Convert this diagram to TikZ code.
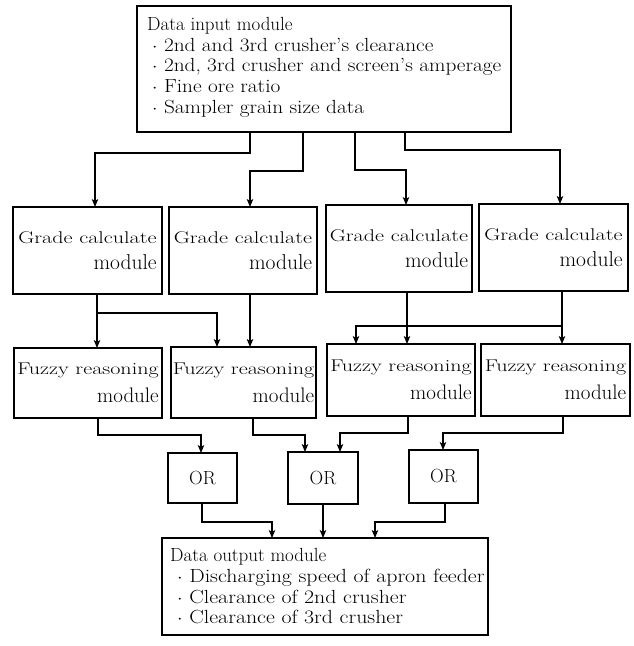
\documentclass[tikz,border=0pt]{standalone}
\usepackage{fontspec}
\usepackage{graphicx}
\usetikzlibrary{arrows.meta,calc}
\tikzset{
  box/.style={draw, line width=1.1pt, rectangle, inner sep=0pt, outer sep=0pt},
  gbox/.style={box, align=right, font=\fontsize{21.5}{25.7}\selectfont},
  fbox/.style={box, align=right, font=\fontsize{21}{27.7}\selectfont},
  orbox/.style={box, font=\fontsize{19}{22}\selectfont},
  listtext/.style={anchor=north west, align=left, inner sep=0pt, font=\fontsize{19}{20.6}\selectfont},
  conn/.style={line width=1.3pt, -{Stealth[length=8pt,width=6.5pt,inset=2pt]}},
}
\newcommand{\wide}[1]{\scalebox{1.3}[1]{\fontsize{17}{17}\selectfont #1}}
\newcommand{\bul}{$\cdot$\ }
\newcommand{\itmA}[1]{\hspace*{5pt}\scalebox{1.12}[1]{\bul #1}}
\newcommand{\itmB}[1]{\hspace*{7pt}\scalebox{1.15}[1]{\bul #1}}
\begin{document}
\begin{tikzpicture}[x=1pt,y=-1pt]
\useasboundingbox[fill=white] (0,0) rectangle (634,646);

% boxes
\node[box, minimum width=374pt, minimum height=126pt] (in) at (324,69) {};
\node[listtext] (intext) at ([shift={(10,11.3)}]in.north west)
  {Data input module\\
   \itmA{2nd and 3rd crusher's clearance}\\
   \itmA{2nd, 3rd crusher and screen's amperage}\\
   \itmA{Fine ore ratio}\\
   \itmA{Sampler grain size data}};

\node[gbox, minimum width=149pt, minimum height=87pt] (g1) at (87.5,250.5) {\wide{Grade calculate}\\module};
\node[gbox, minimum width=148pt, minimum height=87pt] (g2) at (243,250.5) {\wide{Grade calculate}\\module};
\node[gbox, minimum width=146pt, minimum height=87pt] (g3) at (399,248.5) {\wide{Grade calculate}\\module};
\node[gbox, minimum width=149pt, minimum height=87pt] (g4) at (553.5,247.5) {\wide{Grade calculate}\\module};

\node[fbox, minimum width=148pt, minimum height=70pt] (f1) at (88,383) {\wide{Fuzzy reasoning}\\module};
\node[fbox, minimum width=145pt, minimum height=71pt] (f2) at (243.5,382.5) {\wide{Fuzzy reasoning}\\module};
\node[fbox, minimum width=148pt, minimum height=72pt] (f3) at (401,380) {\wide{Fuzzy reasoning}\\module};
\node[fbox, minimum width=149pt, minimum height=72pt] (f4) at (555.5,380) {\wide{Fuzzy reasoning}\\module};

\node[orbox, minimum width=69pt, minimum height=50pt] (or1) at (202.5,478) {OR};
\node[orbox, minimum width=70pt, minimum height=52pt] (or2) at (323,478) {OR};
\node[orbox, minimum width=69pt, minimum height=53pt] (or3) at (443.5,476.5) {OR};

\node[box, minimum width=326pt, minimum height=97pt] (out) at (325,586.5) {};
\node[listtext] (outtext) at ([shift={(8,10.5)}]out.north west)
  {Data output module\\
   \itmB{Discharging speed of apron feeder}\\
   \itmB{Clearance of 2nd crusher}\\
   \itmB{Clearance of 3rd crusher}};

% input -> grade
\draw[conn] ([xshift=113pt]in.south west) -- ++(0,21) -| ([xshift=82pt]g1.north west);
\draw[conn] ([xshift=166pt]in.south west) -- ++(0,39) -| ([xshift=81pt]g2.north west);
\draw[conn] ([xshift=218pt]in.south west) -- ++(0,38) -| ([xshift=80pt]g3.north west);
\draw[conn] ([xshift=268pt]in.south west) -- ++(0,18) -| ([xshift=81pt]g4.north west);

% grade -> fuzzy
\draw[conn] ([xshift=84pt]g1.south west) -- ([xshift=83pt]f1.north west);
\draw[conn] ([xshift=84pt]g1.south west) -- ++(0,19) -| ([xshift=46pt]f2.north west);
\draw[conn] ([xshift=81pt]g2.south west) -- ([xshift=79pt]f2.north west);
\draw[conn] ([xshift=81pt]g3.south west) -- ([xshift=80pt]f3.north west);
\draw[conn] ([xshift=83pt]g4.south west) -- ([xshift=81pt]f4.north west);
\draw[conn] ([xshift=83pt]g4.south west) -- ++(0,35) -| ([xshift=29pt]f3.north west);

% fuzzy -> OR
\draw[conn] ([xshift=84pt]f1.south west) -- ++(0,17) -| ([xshift=33pt]or1.north west);
\draw[conn] ([xshift=82pt]f2.south west) -- ++(0,17) -| ([xshift=17pt]or2.north west);
\draw[conn] ([xshift=81pt]f3.south west) -- ++(0,17) -| ([xshift=52pt]or2.north west);
\draw[conn] ([xshift=82pt]f4.south west) -- ++(0,17) -| ([xshift=34pt]or3.north west);

% OR -> output
\draw[conn] ([xshift=34pt]or1.south west) -- ++(0,19) -| ([xshift=110pt]out.north west);
\draw[conn] ([xshift=35pt]or2.south west) -- ([xshift=161pt]out.north west);
\draw[conn] ([xshift=36pt]or3.south west) -- ++(0,19) -| ([xshift=213pt]out.north west);
\end{tikzpicture}
\end{document}
